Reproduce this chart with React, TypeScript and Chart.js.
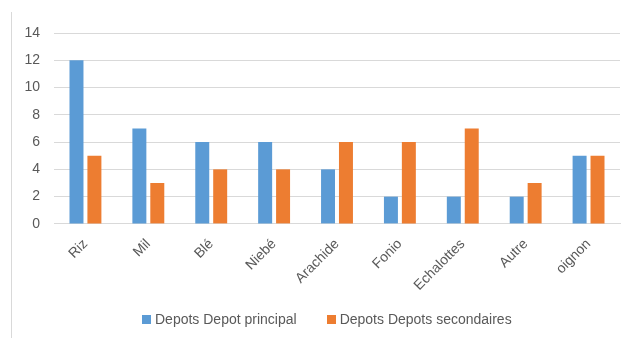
import React, { useEffect, useRef } from "react";
import { Chart, registerables } from "chart.js";

Chart.register(...registerables);

const categories = ["Riz", "Mil", "Blé", "Niebé", "Arachide", "Fonio", "Echalottes", "Autre", "oignon"];
const depotPrincipal = [12, 7, 6, 6, 4, 2, 2, 2, 5];
const depotsSecondaires = [5, 3, 4, 4, 6, 6, 7, 3, 5];
const seriesNames = ["Depots Depot principal", "Depots Depots secondaires"];
const seriesColors = ["#5b9bd5", "#ed7d31"];

const FONT = "'Liberation Sans', Arial, sans-serif";

export default function App() {
  const ref = useRef<HTMLCanvasElement | null>(null);
  useEffect(() => {
    if (!ref.current) return;
    const chart = new Chart(ref.current, {
      type: "bar",
      data: {
        labels: categories,
        datasets: [
          {
            label: seriesNames[0],
            data: depotPrincipal,
            backgroundColor: seriesColors[0],
            barPercentage: 0.78,
            categoryPercentage: 0.57,
          },
          {
            label: seriesNames[1],
            data: depotsSecondaires,
            backgroundColor: seriesColors[1],
            barPercentage: 0.78,
            categoryPercentage: 0.57,
          },
        ],
      },
      options: {
        animation: false,
        responsive: false,
        maintainAspectRatio: false,
        layout: { padding: { top: 33, right: 8, left: 0, bottom: 32 } },
        plugins: {
          tooltip: { enabled: false },
          legend: { display: false },
        },
        scales: {
          x: {
            grid: { display: false, drawTicks: false },
            border: { display: true, color: "#d9d9d9" },
            ticks: {
              color: "#595959",
              font: { family: FONT, size: 14 },
              maxRotation: 45,
              minRotation: 45,
              padding: 12,
            },
          },
          y: {
            min: 0,
            max: 14,
            ticks: {
              stepSize: 2,
              color: "#595959",
              font: { family: FONT, size: 14 },
              padding: 14,
            },
            grid: { color: "#d9d9d9", drawTicks: false },
            border: { display: false },
            afterFit: (scale: any) => {
              scale.width = 54;
            },
          },
        },
      },
    });
    return () => chart.destroy();
  }, []);
  return (
    <div style={{ position: "fixed", left: 0, top: 0, width: 628, height: 338, background: "#fff" }}>
      <div style={{ position: "absolute", left: 11, top: 12, width: 1, height: 326, background: "#d9d9d9" }} />
      <canvas ref={ref} width={628} height={338} style={{ position: "absolute", left: 0, top: 0 }} />
      <div
        style={{
          position: "absolute",
          left: 142,
          top: 311,
          height: 16,
          display: "flex",
          alignItems: "center",
          fontFamily: FONT,
          fontSize: 14,
          lineHeight: "16px",
          color: "#595959",
          whiteSpace: "nowrap",
        }}
      >
        {seriesNames.map((name, i) => (
          <div key={name} style={{ display: "flex", alignItems: "center", marginRight: i === 0 ? 30 : 0 }}>
            <span style={{ display: "inline-block", width: 9, height: 9, background: seriesColors[i], marginRight: 4 }} />
            <span>{name}</span>
          </div>
        ))}
      </div>
    </div>
  );
}
